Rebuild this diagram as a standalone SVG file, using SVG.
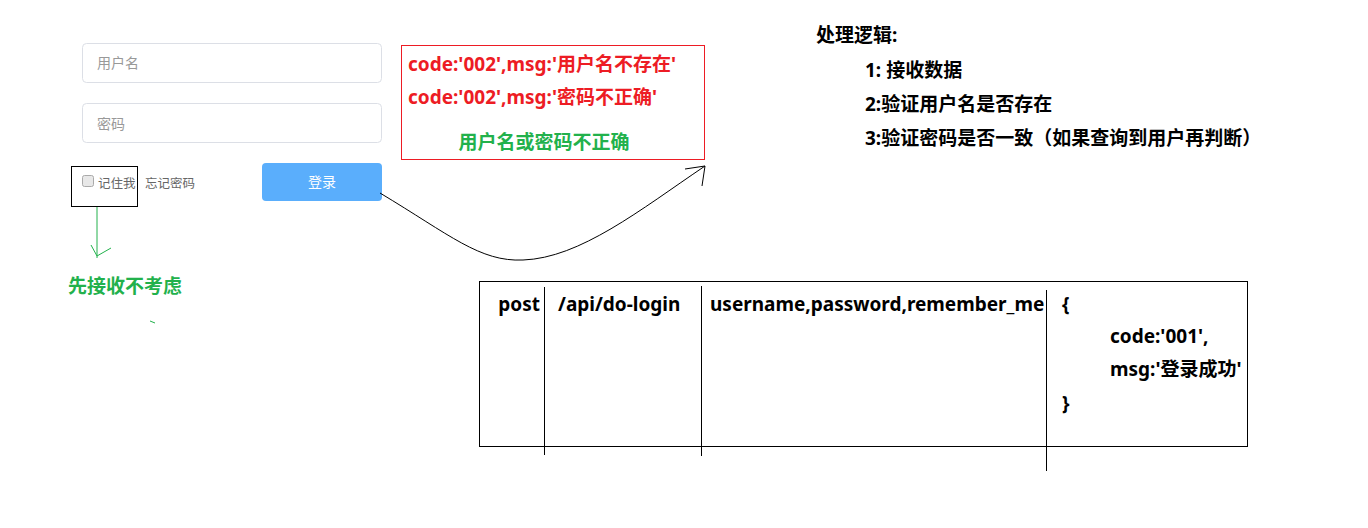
<svg xmlns="http://www.w3.org/2000/svg" width="1368" height="528" viewBox="0 0 1368 528">
<style>
.ph{font-family:"Noto Sans CJK SC","Noto Sans",sans-serif;font-size:14px;fill:#999}
.sm{font-family:"Noto Sans CJK SC","Noto Sans",sans-serif;font-size:12.5px;fill:#666}
.b{font-family:"Noto Sans","Noto Sans CJK SC",sans-serif;font-weight:bold;font-size:19px}
.red{fill:#ed1c24}
.grn{fill:#22b14c}
.blk{fill:#000}
.inp{fill:#fff;stroke:#dcdfe6;stroke-width:1}
</style>
<rect width="1368" height="528" fill="#fff"/>
<g id="username-input">
<rect class="inp" x="82.5" y="43.5" width="299" height="39" rx="4"/>
<text class="ph" x="97" y="68">用户名</text>
</g>
<g id="password-input">
<rect class="inp" x="82.5" y="103.5" width="299" height="39" rx="4"/>
<text class="ph" x="97" y="129">密码</text>
</g>
<g id="remember">
<rect x="71.5" y="166.5" width="66" height="40" fill="none" stroke="#000" stroke-width="1"/>
<rect x="82.5" y="175.5" width="11" height="11" rx="2" fill="#e8e8e8" stroke="#aaa"/>
<text class="sm" x="98" y="188">记住我</text>
</g>
<g id="forgot">
<text class="sm" x="145" y="188">忘记密码</text>
</g>
<g id="login-btn">
<rect x="262" y="163" width="120" height="38" rx="4" fill="#5aaefc"/>
<text x="322" y="187" text-anchor="middle" font-family="Noto Sans CJK SC,sans-serif" font-size="14" fill="#fff">登录</text>
</g>
<g id="error-box">
<rect x="401.5" y="45.5" width="303" height="114" fill="none" stroke="#ed1c24" stroke-width="1"/>
<text class="b red" x="408" y="71">code:'002',msg:'用户名不存在'</text>
<text class="b red" x="408" y="104">code:'002',msg:'密码不正确'</text>
<text class="b grn" x="544" y="149" text-anchor="middle">用户名或密码不正确</text>
</g>
<g id="logic">
<text class="b blk" x="816" y="42">处理逻辑:</text>
<text class="b blk" x="865" y="77">1: 接收数据</text>
<text class="b blk" x="865" y="111">2:验证用户名是否存在</text>
<text class="b blk" x="865" y="145">3:验证密码是否一致（如果查询到用户再判断）</text>
</g>
<g id="note">
<text class="b grn" x="68" y="293">先接收不考虑</text>
<path d="M150,321 L155,323" stroke="#22b14c" stroke-width="1"/>
</g>
<g id="api-table">
<rect x="479.5" y="281.5" width="768" height="165" fill="none" stroke="#000" stroke-width="1"/>
<text class="b blk" x="540" y="311" text-anchor="end">post</text>
<text class="b blk" x="558" y="311">/api/do-login</text>
<text class="b blk" x="710" y="311">username,password,remember_me</text>
<text class="b blk" x="1062" y="311">{</text>
<text class="b blk" x="1110" y="343">code:'001',</text>
<text class="b blk" x="1110" y="376">msg:'登录成功'</text>
<text class="b blk" x="1062" y="410">}</text>
</g>
<g id="connectors" fill="none" stroke-width="1">
<path d="M544.5,287 V455 M701.5,286 V456 M1046.5,290 V471" stroke="#000"/>
<path d="M380,193 C450,235 480,262 523,260 C580,258 640,210 705,166" stroke="#000"/>
<path d="M685,169 L705,166 L702,186" stroke="#000"/>
<path d="M97,207 V258 M91,245 L97,256 L111,248" stroke="#22b14c"/>
</g>
</svg>
